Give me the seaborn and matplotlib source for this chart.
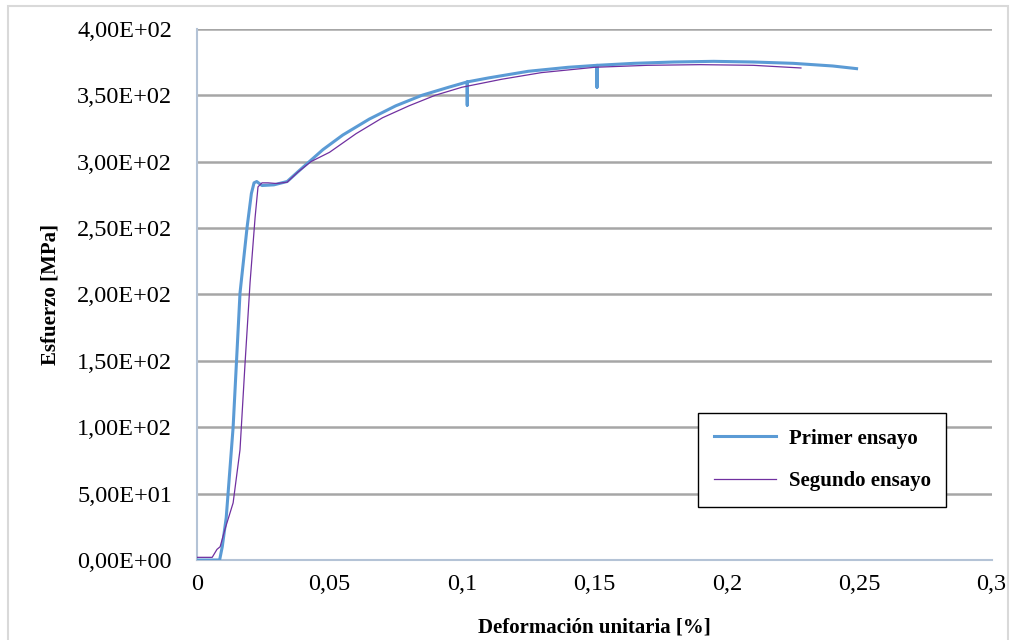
import matplotlib
matplotlib.use('Agg')
import matplotlib.pyplot as plt
import seaborn as sns
import pandas as pd
from matplotlib.ticker import FuncFormatter
from matplotlib.patches import Rectangle

# Primer ensayo (deformacion, esfuerzo)
def_1 = [0.0, 0.004, 0.0085, 0.0095, 0.0110, 0.0136, 0.0162, 0.0189, 0.0205, 0.0215,
         0.0225, 0.0245, 0.0290, 0.0340, 0.0390, 0.0475, 0.0550, 0.0650, 0.0750, 0.0850,
         0.0950, 0.1020, 0.1020, 0.1020, 0.1100, 0.1250, 0.1400, 0.1510, 0.1510, 0.1510,
         0.1650, 0.1800, 0.1950, 0.2100, 0.2250, 0.2400, 0.2490]
esf_1 = [0.0, 0.0, 0.0, 10.0, 32.0, 100.0, 201.0, 251.0, 276.0, 284.0,
         285.0, 282.0, 282.5, 285.0, 294.0, 309.0, 320.0, 332.0, 342.0, 350.0,
         356.0, 360.0, 342.5, 360.0, 363.0, 368.0, 371.0, 372.5, 356.0, 372.5,
         374.0, 375.0, 375.5, 375.0, 374.0, 372.0, 370.0]

# Segundo ensayo
def_2 = [0.0, 0.0057, 0.0075, 0.0087, 0.0105, 0.0136, 0.0162, 0.0181, 0.0200, 0.0219,
         0.0230, 0.0245, 0.0268, 0.0300, 0.0340, 0.0380, 0.0430, 0.0500, 0.0600, 0.0700,
         0.0800, 0.0900, 0.1000, 0.1150, 0.1300, 0.1500, 0.1700, 0.1900, 0.2100, 0.2280]
esf_2 = [2.0, 2.0, 8.0, 10.0, 23.0, 43.0, 83.0, 148.0, 209.0, 258.0,
         281.0, 284.0, 284.0, 283.5, 284.5, 292.0, 300.0, 307.0, 321.0, 333.0,
         342.0, 350.0, 356.0, 362.0, 367.0, 371.0, 372.5, 373.0, 372.5, 370.5]

df1 = pd.DataFrame({'x': def_1, 'y': esf_1})
df2 = pd.DataFrame({'x': def_2, 'y': esf_2})

plt.rcParams['font.family'] = ['Liberation Serif', 'DejaVu Serif']

fig = plt.figure(figsize=(10.16, 6.4), dpi=100)
ax = fig.add_axes([0.194, 0.125, 0.782, 0.830])

sns.lineplot(data=df1, x='x', y='y', sort=False, estimator=None, color='#5B9BD5',
             linewidth=2.2, label='Primer ensayo', ax=ax, zorder=3)
sns.lineplot(data=df2, x='x', y='y', sort=False, estimator=None, color='#7030A0',
             linewidth=0.9, label='Segundo ensayo', ax=ax, zorder=4)

ax.set_xlim(0, 0.3)
ax.set_ylim(0, 400)
ax.set_xticks([0, 0.05, 0.1, 0.15, 0.2, 0.25, 0.3])
ax.set_yticks(range(0, 401, 50))
ax.yaxis.set_major_formatter(FuncFormatter(lambda v, p: f"{v:.2E}".replace('.', ',')))
ax.xaxis.set_major_formatter(FuncFormatter(lambda v, p: f"{round(v, 2):g}".replace('.', ',')))
ax.tick_params(axis='both', length=0, labelsize=17.5)
ax.tick_params(axis='y', pad=18)
ax.tick_params(axis='x', pad=10)

ax.grid(axis='y', color='#A6A6A6', linewidth=1.8)
ax.set_axisbelow(True)
for s in ['top', 'right']:
    ax.spines[s].set_visible(False)
for s in ['left', 'bottom']:
    ax.spines[s].set_color('#B4C3D6')
    ax.spines[s].set_linewidth(1.5)

ax.set_xlabel('Deformación unitaria [%]', fontsize=15, fontweight='bold', labelpad=16)
ax.set_ylabel('Esfuerzo [MPa]', fontsize=15, fontweight='bold', labelpad=12)

leg = ax.legend(loc='lower right', bbox_to_anchor=(0.956, 0.080), frameon=True,
                fancybox=False, edgecolor='black', framealpha=1,
                prop={'weight': 'bold', 'size': 15}, handlelength=3.0,
                labelspacing=1.1, borderpad=0.75, handletextpad=0.6)
leg.get_frame().set_linewidth(1.0)

fig.patches.append(Rectangle((8 / 1016, -0.05), 1000 / 1016, 1.05 - 6 / 640,
                             transform=fig.transFigure, fill=False,
                             edgecolor='#D9D9D9', linewidth=1.5))

fig.savefig('out.png', dpi=100)
